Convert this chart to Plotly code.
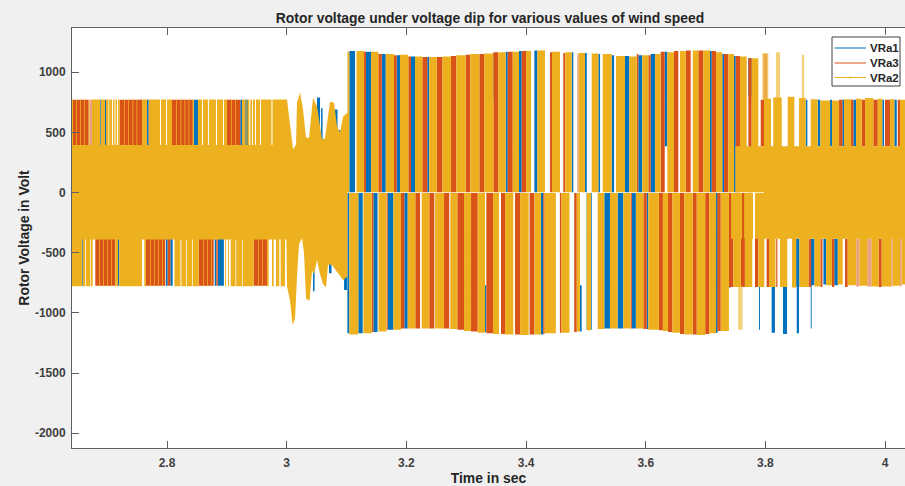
import numpy as np
import plotly.graph_objects as go

# ---- chart values (time in s, voltage in V) ----
tick_x = [2.8, 3.0, 3.2, 3.4, 3.6, 3.8, 4.0]
tick_x_text = ["2.8", "3", "3.2", "3.4", "3.6", "3.8", "4"]
tick_y = [1000, 500, 0, -500, -1000, -1500, -2000]
tick_y_text = ["1000", "500", "0", "-500", "-1000", "-1500", "-2000"]
series_names = ["VRa1", "VRa3", "VRa2"]

# VRa2: main envelope (pre-dip core and dip transient)
vra2_env_up_t = [2.6412,2.9995,3.0005,3.0072,3.0106,3.0156,3.0172,3.0223,3.0273,3.0323,3.0373,3.0440,3.0507,3.0557,3.0590,3.0640,3.0724,3.0791,3.0841,3.0891,3.0941,3.1008,3.1015]
vra2_env_up_v = [395,395,772,520,357,398,745,830,690,455,455,790,715,550,440,450,755,745,550,497,630,660,660]
vra2_env_lo_t = [2.6412,2.9995,3.0005,3.0056,3.0098,3.0139,3.0172,3.0206,3.0256,3.0289,3.0323,3.0381,3.0423,3.0456,3.0507,3.0557,3.0607,3.0657,3.0690,3.0757,3.0824,3.0891,3.0941,3.1008,3.1015]
vra2_env_lo_v = [-390,-390,-778,-900,-1100,-1050,-700,-430,-380,-500,-880,-900,-650,-680,-560,-680,-760,-790,-600,-600,-650,-690,-730,-700,-700]
vra2_core_s = [3.7976]
vra2_core_e = [4.04]
vra2_core_hi = [385]
vra2_core_lo = [-385]

# VRa2: pulses before the dip, positive side
vra2_a_s = [2.6412,2.6479,2.6546,2.6613,2.6691,2.6746,2.6893,2.6980,2.7034,2.7097,2.7139,2.7181,2.7281,2.7348,2.7423,2.7490,2.7582,2.7694,2.7899,2.8000,2.8150,2.8225,2.8292,2.8359,2.8426,2.8517,2.8601,2.8701,2.8835,2.8952,2.9069,2.9136,2.9253,2.9353,2.9391,2.9436,2.9486,2.9570,2.9762]
vra2_a_e = [2.6429,2.6492,2.6559,2.6626,2.6704,2.6880,2.6963,2.7022,2.7080,2.7122,2.7164,2.7206,2.7294,2.7361,2.7436,2.7503,2.7665,2.7883,2.7983,2.8083,2.8163,2.8239,2.8305,2.8372,2.8446,2.8584,2.8684,2.8818,2.8935,2.9002,2.9082,2.9149,2.9298,2.9375,2.9420,2.9470,2.9553,2.9745,3.0004]
# VRa2: pulses before the dip, negative side
vra2_b_s = [2.6412,2.6592,2.6646,2.6729,2.6791,2.6863,2.6930,2.6997,2.7064,2.7136,2.7202,2.7620,2.7715,2.7782,2.7849,2.7916,2.8123,2.8239,2.8329,2.8429,2.8601,2.8668,2.8735,2.8969,2.9019,2.9064,2.9156,2.9264,2.9520,2.9587,2.9670,2.9754,2.9821,2.9899]
vra2_b_e = [2.6579,2.6634,2.6718,2.6758,2.6801,2.6877,2.6943,2.7010,2.7077,2.7181,2.7582,2.7648,2.7728,2.7795,2.7862,2.7929,2.8225,2.8317,2.8417,2.8529,2.8614,2.8681,2.8748,2.8985,2.9036,2.9144,2.9253,2.9448,2.9533,2.9600,2.9699,2.9782,2.9876,2.9971]
# VRa2: pulses after the dip, positive side
vra2_c_s = [3.1015,3.1167,3.1409,3.1655,3.1893,3.2144,3.2383,3.2604,3.2834,3.3068,3.3302,3.3536,3.3777,3.3999,3.4188,3.4433,3.4656,3.4880,3.5097,3.5281,3.5503,3.5725,3.5942,3.6155,3.6360,3.6572,3.6785,3.6962,3.7174,3.7380,3.7575,3.7770]
vra2_c_e = [3.1046,3.1292,3.1531,3.1793,3.2032,3.2266,3.2507,3.2746,3.2991,3.3219,3.3453,3.3660,3.3882,3.4083,3.4316,3.4567,3.4763,3.4985,3.5208,3.5432,3.5653,3.5849,3.6043,3.6250,3.6472,3.6668,3.6878,3.7074,3.7279,3.7475,3.7687,3.7881]
vra2_c_v = [1170,1175,1170,1150,1145,1130,1125,1130,1140,1150,1155,1165,1170,1175,1180,1170,1165,1160,1155,1150,1135,1130,1140,1150,1165,1175,1180,1180,1165,1150,1130,1115]
vra2_d_s = [3.7497,3.7687,3.7881,3.7976,3.8131,3.8372,3.8561,3.8757,3.8917,3.9113,3.9313,3.9514,3.9664,3.9877,4.0082,4.0249]
vra2_d_e = [3.7575,3.7780,3.7976,3.8093,3.8272,3.8483,3.8673,3.8874,3.9080,3.9230,3.9430,3.9609,3.9803,3.9953,4.0154,4.0400]
vra2_d_lo = [2,2,2,385,385,385,385,385,385,385,385,385,385,385,385,385]
vra2_d_v = [385,385,385,780,790,795,785,775,765,765,775,780,785,780,775,770]
# VRa2: pulses after the dip, negative side
vra2_e_s = [3.1046,3.1281,3.1534,3.1782,3.2022,3.2255,3.2480,3.2734,3.2963,3.3192,3.3448,3.3648,3.3900,3.4140,3.4310,3.4592,3.4847,3.5012,3.5197,3.5402,3.5624,3.5835,3.6043,3.6287,3.6446,3.6644,3.6852,3.7060,3.7253]
vra2_e_e = [3.1197,3.1421,3.1668,3.1910,3.2149,3.2383,3.2629,3.2851,3.3080,3.3314,3.3548,3.3787,3.4044,3.4248,3.4498,3.4725,3.4900,3.5085,3.5307,3.5530,3.5746,3.5960,3.6220,3.6372,3.6572,3.6785,3.6993,3.7174,3.7390]
vra2_e_v = [-1180,-1170,-1155,-1140,-1130,-1130,-1130,-1135,-1150,-1165,-1175,-1180,-1185,-1180,-1170,-1165,-1155,-1145,-1135,-1130,-1130,-1130,-1140,-1150,-1165,-1180,-1185,-1170,-1150]
vra2_f_s = [3.7462,3.7657,3.7880,3.8060,3.8243,3.8444,3.8568,3.8819,3.9014,3.9209,3.9375,3.9572,3.9777,3.9943,4.0126,4.0277]
vra2_f_e = [3.7590,3.7780,3.7980,3.8168,3.8365,3.8513,3.8719,3.8919,3.9112,3.9291,3.9516,3.9700,3.9893,4.0100,4.0249,4.0400]
vra2_f_v = [-785,-785,-785,-785,-785,-790,-785,-780,-770,-765,-770,-775,-780,-780,-775,-765]
vra2_h_s = [3.7425,3.7644,3.7825]
vra2_h_e = [3.7610,3.7792,3.7976]
vra2_spike_s = [3.7948,3.8176,3.8608,3.7545,2.9298]
vra2_spike_e = [3.8048,3.8243,3.8646,3.7617,2.9353]
vra2_spike_lo = [770,770,770,-1140,385]
vra2_spike_hi = [1160,1165,1145,-770,770]

# VRa3
vra3_a_s = [2.6429,2.7206,2.8083,2.9002]
vra3_a_e = [2.6691,2.7582,2.8434,2.9224]
vra3_b_s = [2.6801,2.7648,2.8011,2.8529,2.8823,2.9448]
vra3_b_e = [2.7136,2.7971,2.8055,2.8780,2.8847,2.9670]
vra3_c_s = [3.1292,3.1531,3.1793,3.2032,3.2266,3.2507,3.2746,3.2991,3.3219,3.3453,3.3693,3.3927,3.4400,3.4622,3.5849,3.6043,3.6250,3.6472,3.6668,3.6878,3.7103,3.7308,3.7503,3.7714]
vra3_c_e = [3.1325,3.1588,3.1838,3.2077,3.2349,3.2604,3.2834,3.3068,3.3302,3.3536,3.3777,3.3999,3.4433,3.4656,3.5876,3.6083,3.6317,3.6544,3.6751,3.6962,3.7174,3.7380,3.7575,3.7770]
vra3_c_v = [1170,1150,1140,1130,1125,1125,1135,1145,1150,1165,1170,1175,1165,1160,1150,1140,1170,1175,1180,1180,1175,1150,1135,1115]
vra3_d_s = [3.7921,3.9230,3.9430,3.9609,3.9803,3.9998,4.0211]
vra3_d_e = [3.7976,3.9285,3.9469,3.9664,3.9877,4.0082,4.0249]
vra3_e_s = [3.1421,3.1668,3.1910,3.2149,3.2383,3.2629,3.2851,3.3080,3.3336,3.3581,3.3815,3.4059,3.4286,3.4565,3.4804,3.5746,3.5960,3.6220,3.6372,3.6572,3.6785,3.6993,3.7196]
vra3_e_e = [3.1448,3.1688,3.1965,3.2228,3.2467,3.2716,3.2963,3.3192,3.3448,3.3648,3.3900,3.4140,3.4310,3.4592,3.4847,3.5768,3.6017,3.6287,3.6446,3.6644,3.6852,3.7060,3.7253]
vra3_e_v = [-1160,-1140,-1130,-1130,-1130,-1130,-1140,-1155,-1170,-1175,-1180,-1180,-1175,-1165,-1160,-1130,-1135,-1145,-1160,-1175,-1180,-1175,-1150]
vra3_f_s = [3.7390,3.7590,3.7825,3.8020,3.8180,3.8719,3.8919,3.9112,3.9330,3.9893]
vra3_f_e = [3.7462,3.7657,3.7880,3.8060,3.8200,3.8764,3.8953,3.9150,3.9375,3.9943]
vra3_f_hi = [-4,-4,-4,-385,-385,-385,-385,-385,-385,-385]
vra3_g_s = [2.6704,3.7965,3.4856,3.9516,3.9700,4.0100,4.0249]
vra3_g_e = [2.6746,3.8030,3.4880,3.9572,3.9777,4.0126,4.0277]
vra3_g_lo = [385,770,2,-780,-780,-780,-780]
vra3_g_hi = [770,1150,1155,-385,-385,-385,-385]

# VRa1
vra1_a_s = [2.6880,2.6963,2.7022,2.7552,2.7665,2.8446,2.9224,2.9298]
vra1_a_e = [2.6893,2.6980,2.7034,2.7582,2.7694,2.8517,2.9253,2.9353]
vra1_b_s = [2.6579,2.6634,2.7181,2.7983,2.8055,2.8111,2.8797,2.8847,2.8918]
vra1_b_e = [2.6592,2.6646,2.7202,2.8011,2.8095,2.8123,2.8823,2.8918,2.8950]
vra1_c_s = [3.1046,3.1325,3.1588,3.1838,3.2077,3.2349,3.3453,3.3660,3.3882,3.4138,3.4763,3.4985,3.5208,3.5432,3.5653,3.5876,3.6083,3.6317,3.7074,3.7279,3.7475,3.7714]
vra1_c_e = [3.1142,3.1409,3.1655,3.1893,3.2144,3.2383,3.3470,3.3693,3.3927,3.4188,3.4789,3.5014,3.5236,3.5470,3.5725,3.5942,3.6155,3.6360,3.7103,3.7308,3.7503,3.7770]
vra1_c_lo = [2,2,2,2,2,2,790,2,2,2,2,2,2,2,2,2,2,385,2,2,2,800]
vra1_c_v = [1175,1170,1150,1140,1130,1125,1160,1170,1175,1180,1165,1160,1150,1140,1135,1140,1150,1170,1175,1150,1135,1115]
vra1_d_s = [3.8673,3.8874,3.9080,3.9285,3.9469,3.9953,4.0154,3.0507,3.0574,3.0807,3.0874]
vra1_d_e = [3.8700,3.8917,3.9113,3.9313,3.9514,3.9982,4.0194,3.0557,3.0599,3.0849,3.0899]
vra1_d_lo = [385,385,385,385,385,385,385,400,400,400,400]
vra1_d_v = [770,770,770,770,770,770,770,790,700,690,520]
vra1_e_s = [3.1014,3.1197,3.1448,3.1688,3.1965,3.4248,3.5012,3.5307,3.5530,3.5768,3.6017,3.7174,3.7390]
vra1_e_e = [3.1046,3.1270,3.1518,3.1782,3.2022,3.4286,3.5097,3.5402,3.5624,3.5835,3.6043,3.7202,3.7420]
vra1_e_v = [-1170,-1170,-1160,-1140,-1130,-1180,-1140,-1130,-1130,-1130,-1135,-1165,-790]
vra1_f_s = [3.3314,3.4900,3.8513,3.8764,3.8969,3.9150,3.7892,3.8104,3.8293,3.8523,3.8757,3.0440,3.0707,3.0958]
vra1_f_e = [3.3336,3.4929,3.8568,3.8819,3.9014,3.9209,3.7908,3.8159,3.8360,3.8561,3.8772,3.0465,3.0749,3.1008]
vra1_f_hi = [-770,-770,-385,-385,-385,-385,-390,-390,-390,-390,-390,-400,-400,-400]
vra1_f_v = [-1160,-1155,-780,-770,-765,-770,-1140,-1165,-1175,-1170,-1130,-820,-670,-810]

BLUE, ORANGE, YELLOW = "#0072BD", "#D95319", "#EDB120"
W, H, ML, MT, MB = 905, 486, 72, 28, 38


def rects(start, end, lo, hi):
    """Closed outlines for a list of pulses, separated by gaps."""
    start, end = np.asarray(start, float), np.asarray(end, float)
    lo = np.broadcast_to(lo, start.shape)
    hi = np.broadcast_to(hi, start.shape)
    xs, ys = [], []
    for s, e, a, b in zip(start, end, lo, hi):
        xs += [s, s, e, e, s, None]
        ys += [a, b, b, a, a, None]
    return xs, ys


def merge(*parts):
    xs, ys = [], []
    for x, y in parts:
        xs += list(x)
        ys += list(y)
    return xs, ys


def area(x, y, color, name, opacity=1.0):
    return go.Scatter(x=x, y=y, mode="lines", fill="toself", fillcolor=color, name=name,
                      line=dict(width=0, color=color), opacity=opacity,
                      showlegend=False, hoverinfo="skip")


vra1 = merge(rects(vra1_a_s, vra1_a_e, 385, 770), rects(vra1_b_s, vra1_b_e, -775, -385),
             rects(vra1_c_s, vra1_c_e, vra1_c_lo, vra1_c_v), rects(vra1_d_s, vra1_d_e, vra1_d_lo, vra1_d_v),
             rects(vra1_e_s, vra1_e_e, vra1_e_v, -4), rects(vra1_f_s, vra1_f_e, vra1_f_v, vra1_f_hi))
vra3 = merge(rects(vra3_a_s, vra3_a_e, 385, 770), rects(vra3_b_s, vra3_b_e, -775, -385),
             rects(vra3_c_s, vra3_c_e, 2, vra3_c_v), rects(vra3_d_s, vra3_d_e, 385, 770),
             rects(vra3_e_s, vra3_e_e, vra3_e_v, -4), rects(vra3_f_s, vra3_f_e, -785, vra3_f_hi))
vra3_pale = rects(vra3_g_s, vra3_g_e, vra3_g_lo, vra3_g_hi)
vra2 = merge((vra2_env_up_t + vra2_env_lo_t[::-1] + [None], vra2_env_up_v + vra2_env_lo_v[::-1] + [None]),
             rects(vra2_core_s, vra2_core_e, vra2_core_lo, vra2_core_hi),
             rects(vra2_a_s, vra2_a_e, 385, 772), rects(vra2_b_s, vra2_b_e, -778, -385),
             rects(vra2_c_s, vra2_c_e, 2, vra2_c_v), rects(vra2_d_s, vra2_d_e, vra2_d_lo, vra2_d_v),
             rects(vra2_e_s, vra2_e_e, vra2_e_v, -4), rects(vra2_f_s, vra2_f_e, vra2_f_v, -385),
             rects(vra2_h_s, vra2_h_e, -385, -4))
vra2_pale = rects(vra2_spike_s, vra2_spike_e, vra2_spike_lo, vra2_spike_hi)

fig = go.Figure()
fig.add_trace(area(*vra1, BLUE, series_names[0]))
fig.add_trace(area(*vra3, ORANGE, series_names[1]))
fig.add_trace(area(*vra3_pale, ORANGE, series_names[1], 0.55))
fig.add_trace(area(*vra2_pale, YELLOW, series_names[2], 0.6))
fig.add_trace(area(*vra2, YELLOW, series_names[2]))

axis_font = dict(family="Liberation Sans", size=12, color="#404040", weight="bold")
title_font = dict(family="Liberation Sans", size=13.9, color="#262626", weight="bold")
fig.update_layout(
    width=W, height=H, autosize=False,
    margin=dict(l=ML, r=0, t=MT, b=MB),
    paper_bgcolor="#f0f0f0", plot_bgcolor="white", showlegend=False,
    title=dict(text="Rotor voltage under voltage dip for various values of wind speed",
               x=0.5414, xanchor="center", y=0.962, yanchor="middle", font=title_font),
)


# legend key drawn in page pixels so the box has the reference's tight rows
def px(v):
    return (v - ML) / (W - ML)


def py(v):
    return (H - MB - v) / (H - MT - MB)


fig.add_shape(type="rect", xref="paper", yref="paper", x0=px(832), x1=px(900), y0=py(86), y1=py(37),
              fillcolor="white", line=dict(color="#404040", width=1))
for name, col, row in zip(series_names, [BLUE, ORANGE, YELLOW], [48, 63, 77.5]):
    fig.add_shape(type="line", xref="paper", yref="paper", x0=px(834.5), x1=px(866), y0=py(row), y1=py(row),
                  line=dict(color=col, width=1))
    fig.add_annotation(text=name, xref="paper", yref="paper", x=px(868), y=py(row), xanchor="left",
                       yanchor="middle", showarrow=False,
                       font=dict(family="Liberation Sans", size=11.5, color="#262626", weight="bold"))
fig.add_shape(type="circle", xref="paper", yref="paper", x0=px(849), x1=px(851), y0=py(78.5), y1=py(76.5),
              fillcolor=YELLOW, line=dict(width=0))

fig.update_xaxes(range=[2.6412, 4.0332], tickvals=tick_x, ticktext=tick_x_text,
                 ticks="inside", ticklen=7, tickcolor="#606060", showline=True, linecolor="#606060",
                 mirror="ticks", showgrid=False, zeroline=False, tickfont=axis_font, ticklabelstandoff=4,
                 title=dict(text="Time in sec", font=title_font, standoff=3))
fig.update_yaxes(range=[-2123, 1367], tickvals=tick_y, ticktext=tick_y_text, ticks="inside", ticklen=7,
                 tickcolor="#606060", showline=True, linecolor="#606060", showgrid=False,
                 zeroline=False, tickfont=axis_font, ticklabelstandoff=3,
                 title=dict(text="Rotor Voltage in Volt", font=title_font, standoff=2))
fig.write_html("out.html", config=dict(displayModeBar=False),
               post_script="document.body.style.margin='0';document.documentElement.style.overflow='hidden';")
